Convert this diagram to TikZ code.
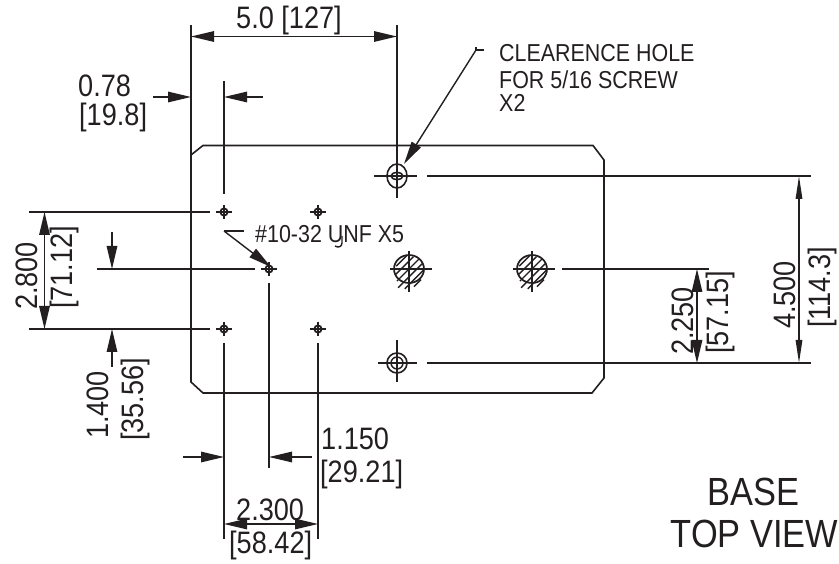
\documentclass[tikz,border=0pt]{standalone}
\usepackage{fontspec}
\setmainfont[FakeStretch=0.875]{Liberation Sans}
\usetikzlibrary{arrows.meta,calc}
\definecolor{ink}{HTML}{231F20}
\tikzset{
  line/.style={draw=ink,line width=1.4pt},
  dim/.style={line,-{Triangle[length=23pt,width=10.5pt]}},
  dimboth/.style={line,{Triangle[length=23pt,width=10.5pt]}-{Triangle[length=23pt,width=10.5pt]}},
  slimboth/.style={line,{Triangle[length=23pt,width=6.5pt]}-{Triangle[length=23pt,width=6.5pt]}},
  lab/.style={anchor=base west,inner sep=0pt,text=ink,font=\fontsize{31}{31}\selectfont},
  up/.style={lab,rotate=90},
  note/.style={lab,font=\fontsize{24.5}{25}\selectfont},
  big/.style={lab,font=\fontsize{39.3}{40}\selectfont},
}
\newcommand{\smallhole}[3]{%
  \coordinate (#1) at (#2,#3);
  \draw[line] ($(#1)+(-8,0)$) -- ($(#1)+(8,0)$);
  \draw[line] ($(#1)+(0,-7)$) -- ($(#1)+(0,7)$);
  \draw[line,line width=1.8pt] (#1) circle[radius=3.6];
}
\newcommand{\threadhole}[3]{%
  \coordinate (#1) at (#2,#3);
  \draw[line] ($(#1)+(-19,0)$) -- ($(#1)+(23,0)$);
  \draw[line] ($(#1)+(0,-18)$) -- ($(#1)+(0,23)$);
  \draw[line,line width=1.7pt] (#1) ellipse[x radius=15,y radius=14];
  \foreach \d/\h/\t in {-11/8/7,-5.5/12/13,0/14/17,5.5/13/21,11/9/17,16/1/9}
    \draw[line] ($(#1)+(.707*\d,.707*\d)+(-.707*\t,.707*\t)$) -- ($(#1)+(.707*\d,.707*\d)+(.707*\h,-.707*\h)$);
}
\begin{document}
\begin{tikzpicture}[x=1pt,y=-1pt]
\useasboundingbox (0,0) rectangle (839,564);
% base outline
\draw[line,line width=1.6pt] (203,145.5) -- (593,145.5) -- (604,160) -- (604,378) -- (592,393) -- (203,393) -- (191,382) -- (191,155) -- cycle;

% holes
\smallhole{a}{224}{212}
\smallhole{b}{318}{212}
\smallhole{c}{269}{269}
\smallhole{d}{224}{329}
\smallhole{e}{318}{329}

\coordinate (h1) at (397,176);
\draw[line] (374,176) -- (417,176);
\draw[line] (397,157) -- (397,198);
\draw[line,line width=1.6pt] (h1) ellipse[x radius=10,y radius=12];
\draw[line,line width=1.6pt] (h1) ellipse[x radius=6,y radius=3.5];
\coordinate (h2) at (397,363);
\draw[line] (378,363) -- (417,363);
\draw[line] (397,340) -- (397,382);
\draw[line,line width=1.6pt] (h2) circle[radius=10];
\draw[line] (h2) circle[radius=6];

\threadhole{t1}{409}{269}
\threadhole{t2}{532}{269}

% extension lines
\draw[line,line width=1.6pt] (191,25) -- (191,155);
\draw[line] (397,25) -- (397,157);
\draw[line] (224,81) -- (224,194);
\draw[line] (427,176) -- (811,176);
\draw[line,line width=1.8pt] (427,363) -- (811,363);
\draw[line] (562,269) -- (709,269);
\draw[line] (29,212) -- (210,212);
\draw[line] (29,329) -- (210,329);
\draw[line] (97,269) -- (255,269);
\draw[line] (224,343) -- (224,539);
\draw[line] (269,283) -- (269,468);
\draw[line] (318,343) -- (318,539);

% dimension lines
\draw[dimboth] (191,36.5) -- (397,36.5);
\node[lab] (t50) at (236,29) {5.0 [127]};
\draw[dim] (153,97) -- (191,97);
\draw[dim] (263,97) -- (224,97);
\node[lab] (t078) at (78,97) {0.78};
\node[lab] (t198) at (79,126) {[19.8]};

\draw[dimboth] (44.5,212) -- (44.5,329);
\node[up] (t28) at (37,310) {2.800};
\node[up] (t7112) at (72,309) {[71.12]};
\draw[dim] (112,232) -- (112,269);
\draw[dim] (112,367) -- (112,329);
\node[up] (t14) at (108,439) {1.400};
\node[up] (t3556) at (143,441) {[35.56]};

\draw[dim] (183,457) -- (224,457);
\draw[dim] (312,457) -- (269,457);
\node[lab] (t115) at (321,449) {1.150};
\node[lab] (t2921) at (320,482) {[29.21]};
\draw[dimboth] (224,524) -- (318,524);
\node[lab] (t23) at (236,520) {2.300};
\node[lab] (t5842) at (229,553) {[58.42]};

\draw[dimboth] (697,269) -- (697,363);
\node[up] (t225) at (693,355) {2.250};
\node[up] (t5715) at (728,354) {[57.15]};
\draw[slimboth] (799,176) -- (799,363);
\node[up] (t45) at (795,329) {4.500};
\node[up] (t1143) at (830,328) {[114.3]};

% leaders
\coordinate (l1) at (476,50);
\draw[line] (484,50) -- (l1) -- ++(0,-3);
\draw[dim] (l1) -- (404,164);
\node[note] (clr) at (499,62) {CLEARENCE HOLE};
\node[note] (clr2) at (499,89) {FOR 5/16 SCREW};
\node[note] (clr3) at (499,112) {X2};

\coordinate (l2) at (224,231);
\draw[line] (244,231) -- (l2);
\draw[dim] (l2) -- (271,267);
\node[note] (unf) at (255,243) {\#10-32 UNF X5};
\draw[line] (342,236) -- (342,243) .. controls (342,247) and (338,248) .. (335,246);

% title
\node[big] (base) at (707,505) {BASE};
\node[big] (top) at (670.5,547) {TOP VIEW};
\end{tikzpicture}
\end{document}
